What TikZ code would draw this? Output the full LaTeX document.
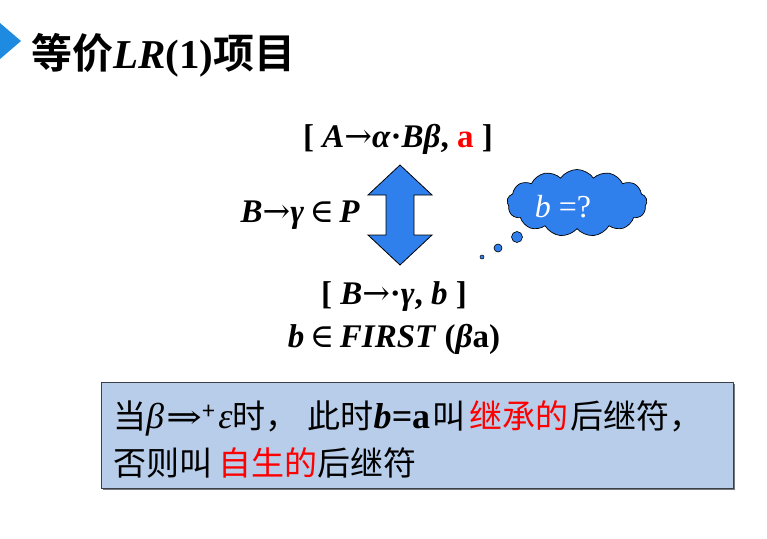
\documentclass[tikz,border=0pt]{standalone}
\usepackage{fontspec}
\setmainfont{Liberation Serif}
\newfontfamily\cjk{Noto Sans CJK SC}
\newfontfamily\cjkb{Noto Sans CJK SC Bold}
\newfontfamily\symf{DejaVu Serif}
\newcommand{\myarr}{{\symf\mdseries\upshape →}}
\newcommand{\myin}{{\symf\mdseries\upshape\,∈\,}}
\newcommand{\lat}[1]{{\fontsize{36}{36}\selectfont\rmfamily #1}}
\usetikzlibrary{shapes.symbols}
\definecolor{titleblue}{HTML}{1E8AE0}
\definecolor{arrblue}{HTML}{2F80EC}
\definecolor{boxfill}{HTML}{B7CDEA}
\definecolor{boxline}{HTML}{3A3F48}
\begin{document}
\begin{tikzpicture}[x=1pt,y=-1pt,
  formula/.style={font=\fontsize{33}{36}\selectfont\bfseries, inner sep=0pt},
  cjkline/.style={font=\fontsize{33}{36}\selectfont\cjk, inner sep=0pt, anchor=west},
  bubble/.style={circle, draw, fill=arrblue, line width=0.6pt, inner sep=0pt}]
\useasboundingbox (0,0) rectangle (767,538);
% title marker
\fill[titleblue] (0,23) -- (21,41) -- (0,59) -- cycle;
\node[anchor=west, inner sep=0pt] (title) at (31,55)
  {\fontsize{41}{44}\selectfont\cjkb 等价{\rmfamily\bfseries\itshape LR}{\rmfamily\bfseries (1)}项目};
% formulas
\node[formula] (top) at (398,139)
  {[ \textit{A}\myarr\textit{α}·\textit{Bβ}, \textcolor{red}{a} ]};
\node[formula, anchor=east] (left) at (360,215)
  {\textit{B}\myarr\textit{γ}\myin\textit{P}};
\node[formula] (bot1) at (394,297)
  {[ \textit{B}\myarr·\textit{γ}, \textit{b} ]};
\node[formula] (bot2) at (394,339)
  {\textit{b}\myin\textit{FIRST} (\textit{β}a)};
% double arrow
\draw[fill=arrblue, line width=0.8pt]
  (400,165) -- (432,195) -- (414,195) -- (414,235) -- (432,235) -- (400,265)
  -- (368,235) -- (386,235) -- (386,195) -- (368,195) -- cycle;
% cloud
\node[cloud, cloud puffs=13, cloud puff arc=110, aspect=2.2, draw, fill=arrblue,
  line width=0.7pt, minimum width=140pt, minimum height=67pt] (cloud) at (577,203) {};
\node[font=\fontsize{32}{34}\selectfont, text=white, inner sep=0pt] (q) at (563,207) {\textit{b} =?};
\node[bubble, minimum size=11pt] (c1) at (517,237) {};
\node[bubble, minimum size=8pt] (c2) at (498,248) {};
\node[bubble, minimum size=4pt, line width=0.5pt] (c3) at (482,257) {};
% box
\fill[boxline!70] (103,384) rectangle (735,490);
\node[draw=boxline, fill=boxfill, line width=1.2pt, minimum width=632pt, minimum height=106pt,
  anchor=north west, inner sep=0pt] (box) at (101,382) {};
\node[cjkline] (l1) at (113,418)
  {当\lat{\itshape β}\hspace{2pt}\scalebox{1.3}[1]{\symf ⇒}\textsuperscript{+}\hspace{3pt}\lat{\itshape ε}时，\hspace{9pt}此时\lat{\bfseries\itshape b=}\lat{\bfseries a}\hspace{2pt}叫\hspace{4pt}\textcolor{red}{继承的}\hspace{2pt}后继符，};
\node[cjkline] (l2) at (113,463)
  {否则叫\hspace{6pt}\textcolor{red}{自生的}后继符};
\end{tikzpicture}
\end{document}
